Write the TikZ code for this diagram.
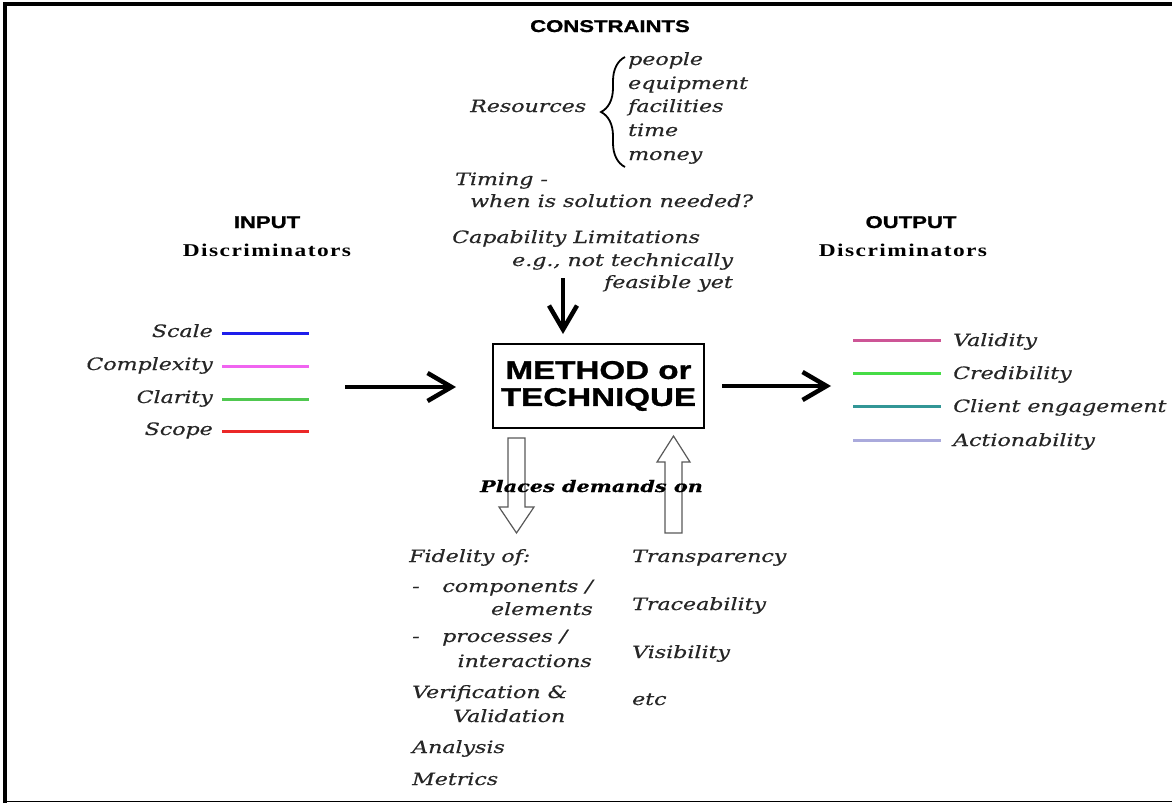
\documentclass[tikz,border=0pt]{standalone}
\usepackage{fontspec}
\newfontfamily\handfont{DejaVu Serif}[FakeStretch=1.3,FakeBold=0.5]
\newfontfamily\headfont{Liberation Sans}[FakeStretch=1.3,FakeBold=1.2]
\newfontfamily\discfont{Liberation Serif}[FakeStretch=1.3,LetterSpace=8]
\usetikzlibrary{arrows.meta,decorations.pathreplacing}
\definecolor{inblue}{RGB}{30,30,235}
\definecolor{inpink}{RGB}{240,100,240}
\definecolor{ingreen}{RGB}{80,200,80}
\definecolor{inred}{RGB}{235,40,40}
\definecolor{outrose}{RGB}{205,85,150}
\definecolor{outgreen}{RGB}{70,220,70}
\definecolor{outteal}{RGB}{50,150,150}
\definecolor{outlilac}{RGB}{170,170,220}

\begin{document}
\begin{tikzpicture}[x=1pt,y=-1pt,
  hand/.style={font=\handfont\itshape\fontsize{17}{20}\selectfont,inner sep=0pt,text=black!85},
  head/.style={font=\headfont\bfseries\fontsize{17}{20}\selectfont,inner sep=0pt},
  disc/.style={font=\discfont\bfseries\fontsize{18}{20}\selectfont,inner sep=0pt},
  fat/.style={line width=4.5pt,-{Straight Barb[length=24pt,width=28pt]}},
  key/.style={line width=3pt},
  hollow/.style={draw=black!65,line width=1.2pt,fill=white}]
  \useasboundingbox (0,0) rectangle (1172,803);
  % frame
  \draw[line width=4pt] (5.3,803) -- (5.3,4.3) -- (1172,4.3);
  \draw[line width=1.3pt] (3,801.5) -- (1172,801.5);

  % constraints
  \node[head,anchor=base] (cons) at (610,32) {CONSTRAINTS};
  \node[hand,anchor=base west] (res) at (470,112) {Resources};
  \coordinate (brB) at (625,167);
  \coordinate (brT) at (625,57);
  \draw[line width=1.8pt,decorate,decoration={brace,amplitude=24pt}] (brB) -- (brT);
  \foreach \w/\y [count=\i] in {people/65,equipment/89,facilities/112,time/136,money/160}
    \node[hand,anchor=base west] (r\i) at (628,\y) {\w};
  \node[hand,anchor=base west] (tim1) at (455,185) {Timing -};
  \node[hand,anchor=base west] (tim2) at (470,207) {when is solution needed?};
  \node[hand,anchor=base west] (cap1) at (452,243) {Capability Limitations};
  \node[hand,anchor=base west] (cap2) at (512,266) {e.g., not technically};
  \node[hand,anchor=base west] (cap3) at (604,288) {feasible yet};
  \coordinate (cA) at (563,278);
  \coordinate (cB) at (563,334);
  \draw[fat] (cA) -- (cB);

  % method
  \node[draw,line width=2.8pt,minimum width=211pt,minimum height=84pt,inner sep=0pt,align=center,
    font=\headfont\bfseries\fontsize{25.5}{27}\selectfont] (meth) at (598.5,386) {METHOD or\\TECHNIQUE};

  % input side
  \node[head,anchor=base] (inp) at (267,228) {INPUT};
  \node[disc,anchor=base] (indisc) at (267,256) {Discriminators};
  \foreach \w/\y/\c [count=\i] in {Scale/337/inblue,Complexity/370/inpink,Clarity/403/ingreen,Scope/435/inred}{
    \node[hand,anchor=base east] (in\i) at (213,\y) {\w};
    \coordinate (inL\i) at (222,\y-4);
    \coordinate (inR\i) at (309,\y-4);
    \draw[key,\c] (inL\i) -- (inR\i);
  }
  \coordinate (inA) at (345,387);
  \coordinate (inB) at (456,387);
  \draw[fat] (inA) -- (inB);

  % output side
  \node[head,anchor=base] (outp) at (911,228) {OUTPUT};
  \node[disc,anchor=base] (outdisc) at (903,256) {Discriminators};
  \foreach \w/\y/\c [count=\i] in {Validity/346/outrose,Credibility/379/outgreen,Client engagement/412/outteal,Actionability/446/outlilac}{
    \node[hand,anchor=base west] (out\i) at (953,\y) {\w};
    \coordinate (outL\i) at (853,\y-6);
    \coordinate (outR\i) at (941,\y-6);
    \draw[key,\c] (outL\i) -- (outR\i);
  }
  \coordinate (outA) at (722,386);
  \coordinate (outB) at (831,386);
  \draw[fat] (outA) -- (outB);

  % demands
  \draw[hollow] (508,438) -- (525,438) -- (525,507) -- (534,507) -- (516.5,533) -- (499,507) -- (508,507) -- cycle;
  \draw[hollow] (665,533) -- (682,533) -- (682,462) -- (690,462) -- (673.5,436) -- (657,462) -- (665,462) -- cycle;
  \node[font=\handfont\bfseries\itshape\fontsize{16}{20}\selectfont,inner sep=0pt,anchor=base] (dem) at (591.5,492) {Places demands on};

  \node[hand,anchor=base west] (fid) at (409,562) {Fidelity of:};
  \node[hand,anchor=base west] (d1) at (412,592) {-};
  \node[hand,anchor=base east] (comp) at (593,592) {components /};
  \node[hand,anchor=base east] (elem) at (593,615) {elements};
  \node[hand,anchor=base west] (d2) at (412,642) {-};
  \node[hand,anchor=base west] (proc) at (442,642) {processes /};
  \node[hand,anchor=base east] (inter) at (592,667) {interactions};
  \node[hand,anchor=base west] (ver) at (412,698) {Verification \&};
  \node[hand,anchor=base west] (val) at (453,722) {Validation};
  \node[hand,anchor=base west] (ana) at (412,753) {Analysis};
  \node[hand,anchor=base west] (met) at (412,785) {Metrics};

  \foreach \w/\y [count=\i] in {Transparency/562,Traceability/610,Visibility/658,etc/705}
    \node[hand,anchor=base west] (q\i) at (632,\y) {\w};
\end{tikzpicture}
\end{document}
